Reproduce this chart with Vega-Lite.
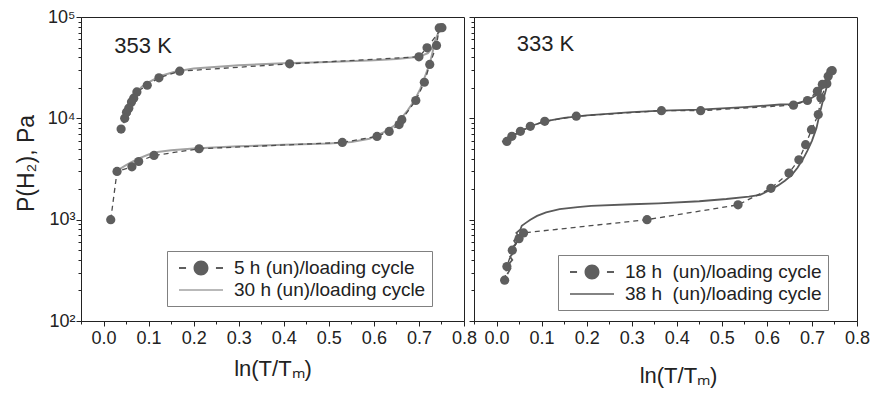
{
  "$schema": "https://vega.github.io/schema/vega-lite/v6.json",
  "background": "white",
  "padding": {"left": 14, "top": 7, "right": 6, "bottom": 2},
  "spacing": 10,
  "bounds": "flush",
  "config": {
    "font": "Liberation Sans",
    "view": {"stroke": "#222", "strokeWidth": 1},
    "axis": {"grid": false, "domainColor": "#222", "tickColor": "#222", "labelColor": "#222", "titleColor": "#222", "titleFontWeight": "normal", "labelFontSize": 18, "titleFontSize": 22, "labelFont": "Liberation Sans", "titleFont": "Liberation Sans", "labelOverlap": false, "labelFlush": false}
  },
  "resolve": {"scale": {"color": "independent", "shape": "independent"}, "legend": {"color": "independent", "shape": "independent"}},
  "hconcat": [
    {
      "width": 383,
      "height": 304,
      "data": {"values": [
        {"s": "5 h (un)/loading cycle", "o": 1, "x": 0.016, "y": 1000},
        {"s": "5 h (un)/loading cycle", "o": 2, "x": 0.030, "y": 2990},
        {"s": "5 h (un)/loading cycle", "o": 3, "x": 0.063, "y": 3320},
        {"s": "5 h (un)/loading cycle", "o": 4, "x": 0.078, "y": 3750},
        {"s": "5 h (un)/loading cycle", "o": 5, "x": 0.112, "y": 4300},
        {"s": "5 h (un)/loading cycle", "o": 6, "x": 0.212, "y": 5010},
        {"s": "5 h (un)/loading cycle", "o": 7, "x": 0.530, "y": 5780},
        {"s": "5 h (un)/loading cycle", "o": 8, "x": 0.607, "y": 6630},
        {"s": "5 h (un)/loading cycle", "o": 9, "x": 0.634, "y": 7430},
        {"s": "5 h (un)/loading cycle", "o": 10, "x": 0.656, "y": 8670},
        {"s": "5 h (un)/loading cycle", "o": 11, "x": 0.662, "y": 9700},
        {"s": "5 h (un)/loading cycle", "o": 12, "x": 0.693, "y": 15000},
        {"s": "5 h (un)/loading cycle", "o": 13, "x": 0.712, "y": 22700},
        {"s": "5 h (un)/loading cycle", "o": 14, "x": 0.724, "y": 34000},
        {"s": "5 h (un)/loading cycle", "o": 15, "x": 0.739, "y": 52400},
        {"s": "5 h (un)/loading cycle", "o": 16, "x": 0.745, "y": 78000},
        {"s": "5 h (un)/loading cycle", "o": 17, "x": 0.751, "y": 78500},
        {"s": "5 h (un)/loading cycle", "o": 18, "x": 0.718, "y": 49600},
        {"s": "5 h (un)/loading cycle", "o": 19, "x": 0.700, "y": 40500},
        {"s": "5 h (un)/loading cycle", "o": 20, "x": 0.413, "y": 34500},
        {"s": "5 h (un)/loading cycle", "o": 21, "x": 0.169, "y": 29200},
        {"s": "5 h (un)/loading cycle", "o": 22, "x": 0.123, "y": 25100},
        {"s": "5 h (un)/loading cycle", "o": 23, "x": 0.097, "y": 21200},
        {"s": "5 h (un)/loading cycle", "o": 24, "x": 0.074, "y": 18200},
        {"s": "5 h (un)/loading cycle", "o": 25, "x": 0.067, "y": 15800},
        {"s": "5 h (un)/loading cycle", "o": 26, "x": 0.062, "y": 14500},
        {"s": "5 h (un)/loading cycle", "o": 27, "x": 0.056, "y": 12600},
        {"s": "5 h (un)/loading cycle", "o": 28, "x": 0.051, "y": 11500},
        {"s": "5 h (un)/loading cycle", "o": 29, "x": 0.047, "y": 10000},
        {"s": "5 h (un)/loading cycle", "o": 30, "x": 0.039, "y": 7840},
        {"s": "30 h (un)/loading cycle", "o": 1, "x": 0.025, "y": 2900},
        {"s": "30 h (un)/loading cycle", "o": 2, "x": 0.030, "y": 3050},
        {"s": "30 h (un)/loading cycle", "o": 3, "x": 0.040, "y": 3250},
        {"s": "30 h (un)/loading cycle", "o": 4, "x": 0.050, "y": 3450},
        {"s": "30 h (un)/loading cycle", "o": 5, "x": 0.065, "y": 3750},
        {"s": "30 h (un)/loading cycle", "o": 6, "x": 0.080, "y": 4050},
        {"s": "30 h (un)/loading cycle", "o": 7, "x": 0.100, "y": 4400},
        {"s": "30 h (un)/loading cycle", "o": 8, "x": 0.120, "y": 4650},
        {"s": "30 h (un)/loading cycle", "o": 9, "x": 0.150, "y": 4850},
        {"s": "30 h (un)/loading cycle", "o": 10, "x": 0.200, "y": 5050},
        {"s": "30 h (un)/loading cycle", "o": 11, "x": 0.300, "y": 5300},
        {"s": "30 h (un)/loading cycle", "o": 12, "x": 0.400, "y": 5500},
        {"s": "30 h (un)/loading cycle", "o": 13, "x": 0.500, "y": 5650},
        {"s": "30 h (un)/loading cycle", "o": 14, "x": 0.550, "y": 5850},
        {"s": "30 h (un)/loading cycle", "o": 15, "x": 0.590, "y": 6300},
        {"s": "30 h (un)/loading cycle", "o": 16, "x": 0.620, "y": 7200},
        {"s": "30 h (un)/loading cycle", "o": 17, "x": 0.650, "y": 8700},
        {"s": "30 h (un)/loading cycle", "o": 18, "x": 0.675, "y": 12000},
        {"s": "30 h (un)/loading cycle", "o": 19, "x": 0.690, "y": 15000},
        {"s": "30 h (un)/loading cycle", "o": 20, "x": 0.703, "y": 19500},
        {"s": "30 h (un)/loading cycle", "o": 21, "x": 0.715, "y": 27000},
        {"s": "30 h (un)/loading cycle", "o": 22, "x": 0.725, "y": 36000},
        {"s": "30 h (un)/loading cycle", "o": 23, "x": 0.735, "y": 55000},
        {"s": "30 h (un)/loading cycle", "o": 24, "x": 0.742, "y": 68000},
        {"s": "30 h (un)/loading cycle", "o": 25, "x": 0.748, "y": 79000},
        {"s": "30 h (un)/loading cycle", "o": 26, "x": 0.738, "y": 62000},
        {"s": "30 h (un)/loading cycle", "o": 27, "x": 0.730, "y": 50000},
        {"s": "30 h (un)/loading cycle", "o": 28, "x": 0.720, "y": 44000},
        {"s": "30 h (un)/loading cycle", "o": 29, "x": 0.700, "y": 40500},
        {"s": "30 h (un)/loading cycle", "o": 30, "x": 0.650, "y": 38500},
        {"s": "30 h (un)/loading cycle", "o": 31, "x": 0.600, "y": 37500},
        {"s": "30 h (un)/loading cycle", "o": 32, "x": 0.500, "y": 36000},
        {"s": "30 h (un)/loading cycle", "o": 33, "x": 0.400, "y": 35000},
        {"s": "30 h (un)/loading cycle", "o": 34, "x": 0.300, "y": 33500},
        {"s": "30 h (un)/loading cycle", "o": 35, "x": 0.200, "y": 31000},
        {"s": "30 h (un)/loading cycle", "o": 36, "x": 0.160, "y": 29000},
        {"s": "30 h (un)/loading cycle", "o": 37, "x": 0.130, "y": 26500},
        {"s": "30 h (un)/loading cycle", "o": 38, "x": 0.110, "y": 24000},
        {"s": "30 h (un)/loading cycle", "o": 39, "x": 0.095, "y": 22000},
        {"s": "30 h (un)/loading cycle", "o": 40, "x": 0.085, "y": 20500},
        {"s": "30 h (un)/loading cycle", "o": 41, "x": 0.078, "y": 19000},
        {"s": "30 h (un)/loading cycle", "o": 42, "x": 0.072, "y": 17500},
        {"s": "30 h (un)/loading cycle", "o": 43, "x": 0.076, "y": 17000},
        {"s": "30 h (un)/loading cycle", "o": 44, "x": 0.066, "y": 15500},
        {"s": "30 h (un)/loading cycle", "o": 45, "x": 0.070, "y": 15000},
        {"s": "30 h (un)/loading cycle", "o": 46, "x": 0.060, "y": 13500},
        {"s": "30 h (un)/loading cycle", "o": 47, "x": 0.064, "y": 13000},
        {"s": "30 h (un)/loading cycle", "o": 48, "x": 0.054, "y": 11500},
        {"s": "30 h (un)/loading cycle", "o": 49, "x": 0.058, "y": 11000},
        {"s": "30 h (un)/loading cycle", "o": 50, "x": 0.048, "y": 10000},
        {"s": "30 h (un)/loading cycle", "o": 51, "x": 0.052, "y": 9700},
        {"s": "30 h (un)/loading cycle", "o": 52, "x": 0.044, "y": 9000}
      ]},
      "encoding": {
        "x": {"field": "x", "type": "quantitative", "scale": {"domain": [-0.05, 0.8], "nice": false, "zero": false},
          "axis": {"title": "ln(T/Tₘ)", "values": [-0.05, 0, 0.05, 0.1, 0.15, 0.2, 0.25, 0.3, 0.35, 0.4, 0.45, 0.5, 0.55, 0.6, 0.65, 0.7, 0.75, 0.8],
            "labelExpr": "abs(datum.value*10 - round(datum.value*10)) < 0.01 ? format(datum.value, '.1f') : ''",
            "tickSize": {"condition": {"test": "abs(datum.value*10 - round(datum.value*10)) < 0.01", "value": 5}, "value": 3},
            "labelPadding": 3, "titlePadding": 11}},
        "y": {"field": "y", "type": "quantitative", "scale": {"type": "log", "domain": [100, 100000], "nice": false},
          "axis": {"title": "P(H₂), Pa", "titleFontSize": 23, "titleY": 146, "values": [100, 200, 300, 400, 500, 600, 700, 800, 900, 1000, 2000, 3000, 4000, 5000, 6000, 7000, 8000, 9000, 10000, 20000, 30000, 40000, 50000, 60000, 70000, 80000, 90000, 100000],
            "labelExpr": "datum.value == 100 ? '10²' : datum.value == 1000 ? '10³' : datum.value == 10000 ? '10⁴' : datum.value == 100000 ? '10⁵' : ''",
            "tickSize": {"condition": {"test": "indexof([100, 1000, 10000, 100000], datum.value) >= 0", "value": 5}, "value": 3},
            "labelPadding": 1, "titlePadding": 9}}
      },
      "layer": [
        {"transform": [{"filter": "datum.s == '30 h (un)/loading cycle'"}],
         "mark": {"type": "line", "color": "#a2a2a2", "strokeWidth": 2},
         "encoding": {"order": {"field": "o", "type": "quantitative"}}},
        {"transform": [{"filter": "datum.s == '5 h (un)/loading cycle'"}],
         "mark": {"type": "line", "color": "#4d4d4d", "strokeWidth": 1.3, "strokeDash": [5, 4]},
         "encoding": {"order": {"field": "o", "type": "quantitative"}}},
        {"transform": [{"filter": "datum.s == '5 h (un)/loading cycle'"}],
         "mark": {"type": "point", "filled": true, "color": "#5e5e5e", "size": 85, "opacity": 1}},
        {"transform": [{"filter": "false"}],
         "mark": {"type": "point", "filled": true, "size": 484, "opacity": 1},
         "encoding": {
           "color": {"field": "s", "type": "nominal",
             "scale": {"domain": ["5 h (un)/loading cycle", "30 h (un)/loading cycle"], "range": ["#5e5e5e", "#a2a2a2"]},
             "legend": {"title": null, "orient": "none", "legendX": 86, "legendY": 234, "padding": 6, "strokeColor": "#808080", "fillColor": "white", "symbolSize": 484, "symbolOffset": 17, "labelOffset": 22, "labelFontSize": 19, "labelFont": "Liberation Sans", "labelColor": "#222", "rowPadding": 1, "symbolOpacity": 1, "symbolStrokeWidth": 0, "labelLimit": 400, "labelExpr": "datum.label + '\u00a0'"}},
           "shape": {"field": "s", "type": "nominal",
             "scale": {"domain": ["5 h (un)/loading cycle", "30 h (un)/loading cycle"], "range": ["M-2,-0.08L-1.36,-0.08L-1.36,0.08L-2,0.08ZM1.36,-0.08L2,-0.08L2,0.08L1.36,0.08ZM-0.68,0A0.68,0.68,0,1,0,0.68,0A0.68,0.68,0,1,0,-0.68,0Z", "M-2,-0.07L2,-0.07L2,0.07L-2,0.07Z"]},
             "legend": {"title": null, "orient": "none", "legendX": 86, "legendY": 234, "padding": 6, "strokeColor": "#808080", "fillColor": "white", "symbolSize": 484, "symbolOffset": 17, "labelOffset": 22, "labelFontSize": 19, "labelFont": "Liberation Sans", "labelColor": "#222", "rowPadding": 1, "symbolOpacity": 1, "symbolStrokeWidth": 0, "labelLimit": 400, "labelExpr": "datum.label + '\u00a0'"}}
         }},
        {"data": {"values": [{"x": 0.024, "y": 52000, "t": "353 K"}]},
         "mark": {"type": "text", "align": "left", "baseline": "middle", "fontSize": 22, "color": "#222", "font": "Liberation Sans"},
         "encoding": {"text": {"field": "t"}}}
      ]
    },
    {
      "width": 383,
      "height": 304,
      "data": {"values": [
        {"s": "18 h  (un)/loading cycle", "o": 1, "x": 0.018, "y": 253},
        {"s": "18 h  (un)/loading cycle", "o": 2, "x": 0.023, "y": 345},
        {"s": "18 h  (un)/loading cycle", "o": 3, "x": 0.035, "y": 500},
        {"s": "18 h  (un)/loading cycle", "o": 4, "x": 0.050, "y": 650},
        {"s": "18 h  (un)/loading cycle", "o": 5, "x": 0.060, "y": 740},
        {"s": "18 h  (un)/loading cycle", "o": 6, "x": 0.334, "y": 1000},
        {"s": "18 h  (un)/loading cycle", "o": 7, "x": 0.536, "y": 1400},
        {"s": "18 h  (un)/loading cycle", "o": 8, "x": 0.609, "y": 2040},
        {"s": "18 h  (un)/loading cycle", "o": 9, "x": 0.649, "y": 2880},
        {"s": "18 h  (un)/loading cycle", "o": 10, "x": 0.671, "y": 3900},
        {"s": "18 h  (un)/loading cycle", "o": 11, "x": 0.686, "y": 5490},
        {"s": "18 h  (un)/loading cycle", "o": 12, "x": 0.699, "y": 7730},
        {"s": "18 h  (un)/loading cycle", "o": 13, "x": 0.714, "y": 10900},
        {"s": "18 h  (un)/loading cycle", "o": 14, "x": 0.720, "y": 15900},
        {"s": "18 h  (un)/loading cycle", "o": 15, "x": 0.733, "y": 22000},
        {"s": "18 h  (un)/loading cycle", "o": 16, "x": 0.742, "y": 29200},
        {"s": "18 h  (un)/loading cycle", "o": 17, "x": 0.745, "y": 29500},
        {"s": "18 h  (un)/loading cycle", "o": 18, "x": 0.736, "y": 26000},
        {"s": "18 h  (un)/loading cycle", "o": 19, "x": 0.723, "y": 21600},
        {"s": "18 h  (un)/loading cycle", "o": 20, "x": 0.712, "y": 18500},
        {"s": "18 h  (un)/loading cycle", "o": 21, "x": 0.690, "y": 15000},
        {"s": "18 h  (un)/loading cycle", "o": 22, "x": 0.659, "y": 13500},
        {"s": "18 h  (un)/loading cycle", "o": 23, "x": 0.453, "y": 11900},
        {"s": "18 h  (un)/loading cycle", "o": 24, "x": 0.366, "y": 11900},
        {"s": "18 h  (un)/loading cycle", "o": 25, "x": 0.177, "y": 10500},
        {"s": "18 h  (un)/loading cycle", "o": 26, "x": 0.107, "y": 9340},
        {"s": "18 h  (un)/loading cycle", "o": 27, "x": 0.075, "y": 8340},
        {"s": "18 h  (un)/loading cycle", "o": 28, "x": 0.053, "y": 7440},
        {"s": "18 h  (un)/loading cycle", "o": 29, "x": 0.034, "y": 6640},
        {"s": "18 h  (un)/loading cycle", "o": 30, "x": 0.023, "y": 5920},
        {"s": "38 h  (un)/loading cycle", "o": 1, "x": 0.024, "y": 290},
        {"s": "38 h  (un)/loading cycle", "o": 2, "x": 0.031, "y": 330},
        {"s": "38 h  (un)/loading cycle", "o": 3, "x": 0.026, "y": 360},
        {"s": "38 h  (un)/loading cycle", "o": 4, "x": 0.035, "y": 400},
        {"s": "38 h  (un)/loading cycle", "o": 5, "x": 0.030, "y": 430},
        {"s": "38 h  (un)/loading cycle", "o": 6, "x": 0.039, "y": 480},
        {"s": "38 h  (un)/loading cycle", "o": 7, "x": 0.034, "y": 520},
        {"s": "38 h  (un)/loading cycle", "o": 8, "x": 0.043, "y": 580},
        {"s": "38 h  (un)/loading cycle", "o": 9, "x": 0.039, "y": 620},
        {"s": "38 h  (un)/loading cycle", "o": 10, "x": 0.048, "y": 700},
        {"s": "38 h  (un)/loading cycle", "o": 11, "x": 0.044, "y": 740},
        {"s": "38 h  (un)/loading cycle", "o": 12, "x": 0.053, "y": 800},
        {"s": "38 h  (un)/loading cycle", "o": 13, "x": 0.056, "y": 870},
        {"s": "38 h  (un)/loading cycle", "o": 14, "x": 0.065, "y": 930},
        {"s": "38 h  (un)/loading cycle", "o": 15, "x": 0.075, "y": 1000},
        {"s": "38 h  (un)/loading cycle", "o": 16, "x": 0.090, "y": 1090},
        {"s": "38 h  (un)/loading cycle", "o": 17, "x": 0.110, "y": 1180},
        {"s": "38 h  (un)/loading cycle", "o": 18, "x": 0.140, "y": 1270},
        {"s": "38 h  (un)/loading cycle", "o": 19, "x": 0.180, "y": 1330},
        {"s": "38 h  (un)/loading cycle", "o": 20, "x": 0.210, "y": 1370},
        {"s": "38 h  (un)/loading cycle", "o": 21, "x": 0.300, "y": 1420},
        {"s": "38 h  (un)/loading cycle", "o": 22, "x": 0.360, "y": 1450},
        {"s": "38 h  (un)/loading cycle", "o": 23, "x": 0.450, "y": 1520},
        {"s": "38 h  (un)/loading cycle", "o": 24, "x": 0.510, "y": 1600},
        {"s": "38 h  (un)/loading cycle", "o": 25, "x": 0.560, "y": 1690},
        {"s": "38 h  (un)/loading cycle", "o": 26, "x": 0.585, "y": 1760},
        {"s": "38 h  (un)/loading cycle", "o": 27, "x": 0.608, "y": 1970},
        {"s": "38 h  (un)/loading cycle", "o": 28, "x": 0.625, "y": 2180},
        {"s": "38 h  (un)/loading cycle", "o": 29, "x": 0.640, "y": 2420},
        {"s": "38 h  (un)/loading cycle", "o": 30, "x": 0.655, "y": 2750},
        {"s": "38 h  (un)/loading cycle", "o": 31, "x": 0.668, "y": 3250},
        {"s": "38 h  (un)/loading cycle", "o": 32, "x": 0.682, "y": 4100},
        {"s": "38 h  (un)/loading cycle", "o": 33, "x": 0.690, "y": 4800},
        {"s": "38 h  (un)/loading cycle", "o": 34, "x": 0.700, "y": 6000},
        {"s": "38 h  (un)/loading cycle", "o": 35, "x": 0.710, "y": 8000},
        {"s": "38 h  (un)/loading cycle", "o": 36, "x": 0.717, "y": 11000},
        {"s": "38 h  (un)/loading cycle", "o": 37, "x": 0.724, "y": 14700},
        {"s": "38 h  (un)/loading cycle", "o": 38, "x": 0.731, "y": 19000},
        {"s": "38 h  (un)/loading cycle", "o": 39, "x": 0.737, "y": 24000},
        {"s": "38 h  (un)/loading cycle", "o": 40, "x": 0.742, "y": 29000},
        {"s": "38 h  (un)/loading cycle", "o": 41, "x": 0.738, "y": 26000},
        {"s": "38 h  (un)/loading cycle", "o": 42, "x": 0.730, "y": 22000},
        {"s": "38 h  (un)/loading cycle", "o": 43, "x": 0.720, "y": 19000},
        {"s": "38 h  (un)/loading cycle", "o": 44, "x": 0.710, "y": 17000},
        {"s": "38 h  (un)/loading cycle", "o": 45, "x": 0.690, "y": 15000},
        {"s": "38 h  (un)/loading cycle", "o": 46, "x": 0.660, "y": 13800},
        {"s": "38 h  (un)/loading cycle", "o": 47, "x": 0.630, "y": 13700},
        {"s": "38 h  (un)/loading cycle", "o": 48, "x": 0.550, "y": 12900},
        {"s": "38 h  (un)/loading cycle", "o": 49, "x": 0.450, "y": 12200},
        {"s": "38 h  (un)/loading cycle", "o": 50, "x": 0.366, "y": 11900},
        {"s": "38 h  (un)/loading cycle", "o": 51, "x": 0.300, "y": 11500},
        {"s": "38 h  (un)/loading cycle", "o": 52, "x": 0.200, "y": 10700},
        {"s": "38 h  (un)/loading cycle", "o": 53, "x": 0.150, "y": 10100},
        {"s": "38 h  (un)/loading cycle", "o": 54, "x": 0.107, "y": 9340},
        {"s": "38 h  (un)/loading cycle", "o": 55, "x": 0.080, "y": 8500},
        {"s": "38 h  (un)/loading cycle", "o": 56, "x": 0.053, "y": 7440},
        {"s": "38 h  (un)/loading cycle", "o": 57, "x": 0.034, "y": 6640},
        {"s": "38 h  (un)/loading cycle", "o": 58, "x": 0.020, "y": 6000},
        {"s": "38 h  (un)/loading cycle", "o": 59, "x": 0.012, "y": 5900}
      ]},
      "encoding": {
        "x": {"field": "x", "type": "quantitative", "scale": {"domain": [-0.05, 0.8], "nice": false, "zero": false},
          "axis": {"title": "ln(T/Tₘ)", "values": [-0.05, 0, 0.05, 0.1, 0.15, 0.2, 0.25, 0.3, 0.35, 0.4, 0.45, 0.5, 0.55, 0.6, 0.65, 0.7, 0.75, 0.8],
            "labelExpr": "abs(datum.value*10 - round(datum.value*10)) < 0.01 ? format(datum.value, '.1f') : ''",
            "tickSize": {"condition": {"test": "abs(datum.value*10 - round(datum.value*10)) < 0.01", "value": 5}, "value": 3},
            "labelPadding": 3, "titlePadding": 18, "titleX": 204}},
        "y": {"field": "y", "type": "quantitative", "scale": {"type": "log", "domain": [100, 100000], "nice": false},
          "axis": {"title": null, "labels": false, "values": [100, 200, 300, 400, 500, 600, 700, 800, 900, 1000, 2000, 3000, 4000, 5000, 6000, 7000, 8000, 9000, 10000, 20000, 30000, 40000, 50000, 60000, 70000, 80000, 90000, 100000],
            "tickSize": {"condition": {"test": "indexof([100, 1000, 10000, 100000], datum.value) >= 0", "value": 5}, "value": 3}}}
      },
      "layer": [
        {"transform": [{"filter": "datum.s == '38 h  (un)/loading cycle'"}],
         "mark": {"type": "line", "color": "#5a5a5a", "strokeWidth": 1.8},
         "encoding": {"order": {"field": "o", "type": "quantitative"}}},
        {"transform": [{"filter": "datum.s == '18 h  (un)/loading cycle'"}],
         "mark": {"type": "line", "color": "#4d4d4d", "strokeWidth": 1.3, "strokeDash": [5, 4]},
         "encoding": {"order": {"field": "o", "type": "quantitative"}}},
        {"transform": [{"filter": "datum.s == '18 h  (un)/loading cycle'"}],
         "mark": {"type": "point", "filled": true, "color": "#5e5e5e", "size": 85, "opacity": 1}},
        {"transform": [{"filter": "false"}],
         "mark": {"type": "point", "filled": true, "size": 484, "opacity": 1},
         "encoding": {
           "color": {"field": "s", "type": "nominal",
             "scale": {"domain": ["18 h  (un)/loading cycle", "38 h  (un)/loading cycle"], "range": ["#5e5e5e", "#5a5a5a"]},
             "legend": {"title": null, "orient": "none", "legendX": 84, "legendY": 238, "padding": 6, "strokeColor": "#808080", "fillColor": "white", "symbolSize": 484, "symbolOffset": 17, "labelOffset": 22, "labelFontSize": 19, "labelFont": "Liberation Sans", "labelColor": "#222", "rowPadding": 1, "symbolOpacity": 1, "symbolStrokeWidth": 0, "labelLimit": 400, "labelExpr": "replace(datum.label, '  ', ' \u00a0') + '\u00a0'"}},
           "shape": {"field": "s", "type": "nominal",
             "scale": {"domain": ["18 h  (un)/loading cycle", "38 h  (un)/loading cycle"], "range": ["M-2,-0.08L-1.36,-0.08L-1.36,0.08L-2,0.08ZM1.36,-0.08L2,-0.08L2,0.08L1.36,0.08ZM-0.68,0A0.68,0.68,0,1,0,0.68,0A0.68,0.68,0,1,0,-0.68,0Z", "M-2,-0.07L2,-0.07L2,0.07L-2,0.07Z"]},
             "legend": {"title": null, "orient": "none", "legendX": 84, "legendY": 238, "padding": 6, "strokeColor": "#808080", "fillColor": "white", "symbolSize": 484, "symbolOffset": 17, "labelOffset": 22, "labelFontSize": 19, "labelFont": "Liberation Sans", "labelColor": "#222", "rowPadding": 1, "symbolOpacity": 1, "symbolStrokeWidth": 0, "labelLimit": 400, "labelExpr": "replace(datum.label, '  ', ' \u00a0') + '\u00a0'"}}
         }},
        {"data": {"values": [{"x": 0.045, "y": 54000, "t": "333 K"}]},
         "mark": {"type": "text", "align": "left", "baseline": "middle", "fontSize": 22, "color": "#222", "font": "Liberation Sans"},
         "encoding": {"text": {"field": "t"}}}
      ]
    }
  ]
}
